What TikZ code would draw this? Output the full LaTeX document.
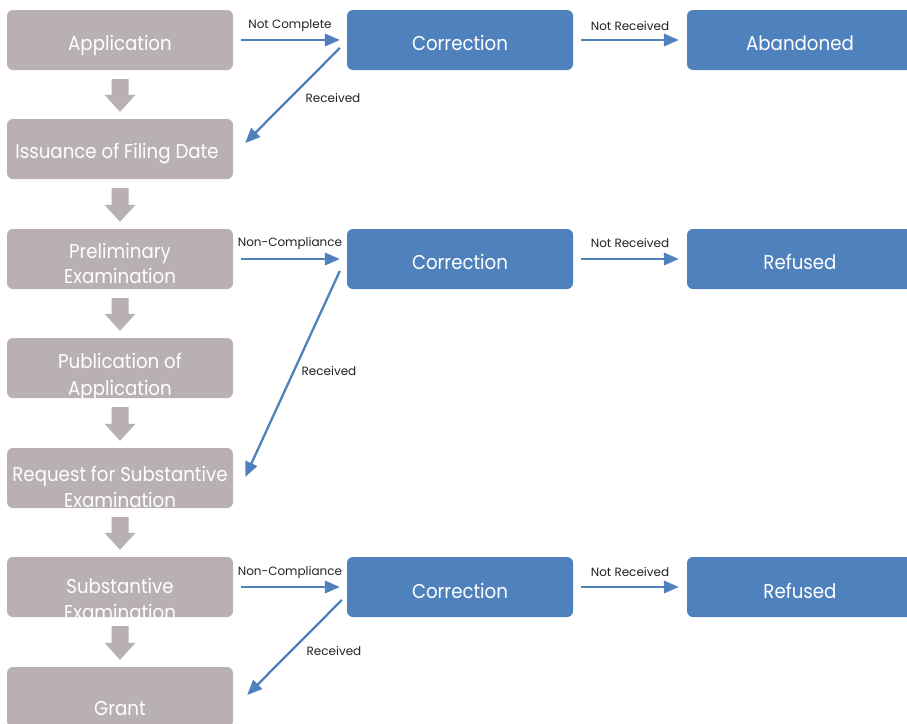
\documentclass[tikz,border=0pt]{standalone}
\usepackage{fontspec}
\setmainfont{Poppins}
\newfontfamily\boxfont[FakeStretch=0.91]{Poppins}
\usetikzlibrary{arrows.meta,calc}
\definecolor{boxgray}{RGB}{185,177,177}
\definecolor{boxblue}{RGB}{79,129,189}
\definecolor{labelc}{RGB}{34,34,34}
\tikzset{
  graybox/.style={fill=boxgray, rounded corners=6pt, minimum width=226pt, minimum height=60pt, inner sep=0pt},
  bluebox/.style={fill=boxblue, rounded corners=6pt, minimum width=226pt, minimum height=60pt, inner sep=0pt},
  boxtext/.style={text=white, font=\boxfont\fontsize{20}{26}\selectfont, anchor=base, inner sep=0pt},
  flow/.style={draw=boxblue, line width=2.3pt, -{Triangle[length=15pt,width=12.5pt]}},
  lbl/.style={font=\fontsize{12}{14}\selectfont, text=labelc, inner sep=0pt},
}
\newcommand\grayflow[2]{%
  \fill[boxgray] let \p1=($(#1.south)+(0,9)$), \p2=($(#2.north)+(0,-7)$) in
    (\x1-8.5pt,\y1) -- (\x1+8.5pt,\y1) -- (\x1+8.5pt,\y2+17pt) -- (\x1+15.5pt,\y2+17pt)
    -- (\x2,\y2) -- (\x1-15.5pt,\y2+17pt) -- (\x1-8.5pt,\y2+17pt) -- cycle;}
\begin{document}
\begin{tikzpicture}[x=1pt,y=-1pt]
\clip (0,0) rectangle (907,723);
% gray column
\node[graybox] (b1) at (120,40) {};
\node[graybox] (b2) at (120,149) {};
\node[graybox] (b3) at (120,259) {};
\node[graybox] (b4) at (120,368) {};
\node[graybox] (b5) at (120,478) {};
\node[graybox] (b6) at (120,587) {};
\node[graybox] (b7) at (120,697) {};
\node[boxtext] (t1) at (120,50) {Application};
\node[boxtext] (t2) at (117,158) {Issuance of Filing Date};
\node[boxtext] (t3a) at (120,258) {Preliminary};
\node[boxtext] (t3b) at (120,283) {Examination};
\node[boxtext] (t4a) at (120,368) {Publication of};
\node[boxtext] (t4b) at (120,395) {Application};
\node[boxtext] (t5a) at (120,481) {Request for Substantive};
\begin{scope}
\clip (b5.south west) rectangle (b5.north east);
\node[boxtext] (t5b) at (120,507) {Examination};
\end{scope}
\node[boxtext] (t6a) at (120,593) {Substantive};
\begin{scope}
\clip (b6.south west) rectangle (b6.north east);
\node[boxtext] (t6b) at (120,619) {Examination};
\end{scope}
\node[boxtext] (t7) at (120,715) {Grant};
\grayflow{b1}{b2}
\grayflow{b2}{b3}
\grayflow{b3}{b4}
\grayflow{b4}{b5}
\grayflow{b5}{b6}
\grayflow{b6}{b7}
% blue boxes
\node[bluebox] (c1) at (460,40) {};
\node[bluebox] (c2) at (460,259) {};
\node[bluebox] (c3) at (460,587) {};
\node[bluebox] (r1) at (800,40) {};
\node[bluebox] (r2) at (800,259) {};
\node[bluebox] (r3) at (800,587) {};
\node[boxtext] (tc1) at (460,50) {Correction};
\node[boxtext] (tc2) at (460,269) {Correction};
\node[boxtext] (tc3) at (460,598) {Correction};
\node[boxtext] (tr1) at (800,50) {Abandoned};
\node[boxtext] (tr2) at (800,269) {Refused};
\node[boxtext] (tr3) at (800,598) {Refused};
% connectors
\draw[flow, shorten <=8pt, shorten >=7pt] (b1.east) -- (c1.west);
\draw[flow, shorten <=8pt, shorten >=8pt] (c1.east) -- (r1.west);
\draw[flow, shorten <=8pt, shorten >=7pt] (b3.east) -- (c2.west);
\draw[flow, shorten <=8pt, shorten >=8pt] (c2.east) -- (r2.west);
\draw[flow, shorten <=8pt, shorten >=7pt] (b6.east) -- (c3.west);
\draw[flow, shorten <=8pt, shorten >=8pt] (c3.east) -- (r3.west);
\draw[flow] ($(c1.west)+(-7,8)$) -- ($(b2.east)+(12,-6)$);
\draw[flow] ($(c2.west)+(-7,12)$) -- ($(b5.east)+(12,-1)$);
\draw[flow] ($(c3.west)+(-5,13)$) -- ($(b7.east)+(14,-2)$);
% labels
\node[lbl] (l1) at (290,26) {Not Complete};
\node[lbl] (l2) at (630,26) {Not Received};
\node[lbl] (l3) at (333,98) {Received};
\node[lbl] (l4) at (290,243) {Non-Compliance};
\node[lbl] (l5) at (630,243) {Not Received};
\node[lbl] (l6) at (329,371) {Received};
\node[lbl] (l7) at (290,572) {Non-Compliance};
\node[lbl] (l8) at (630,572) {Not Received};
\node[lbl] (l9) at (334,651) {Received};
\end{tikzpicture}
\end{document}
